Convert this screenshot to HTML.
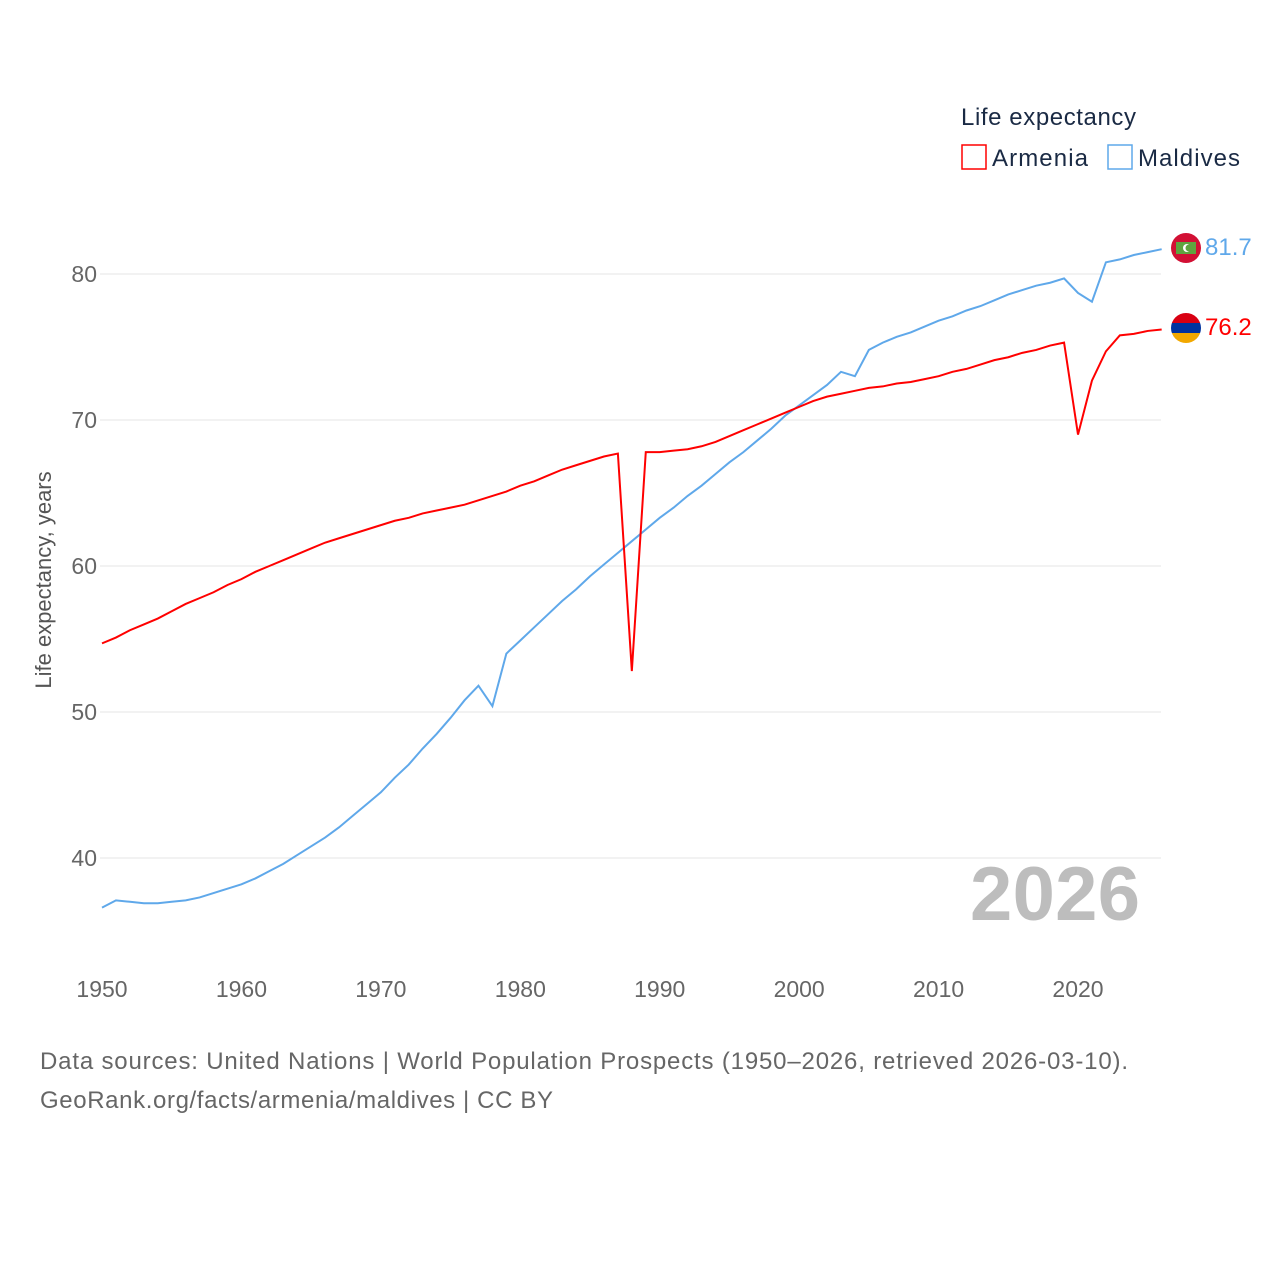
<!DOCTYPE html>
<html><head><meta charset="utf-8"><style>
body{margin:0;background:#fff;}
svg{display:block;font-family:"Liberation Sans",sans-serif;}
</style></head><body>
<svg id="chart" width="1280" height="1280">
<text x="961" y="125" font-size="24" fill="#1a2a44" textLength="175">Life expectancy</text>
<g>
<rect x="962" y="145" width="24" height="24" fill="none" stroke="#ff0000" stroke-width="1.5"/>
<text x="992" y="166" font-size="24" fill="#1a2a44" textLength="96">Armenia</text></g>
<g>
<rect x="1108" y="145" width="24" height="24" fill="none" stroke="#5fa8ea" stroke-width="1.5"/>
<text x="1138" y="166" font-size="24" fill="#1a2a44" textLength="102">Maldives</text></g>
<text transform="translate(51,580) rotate(-90)" text-anchor="middle" font-size="22" fill="#555">Life expectancy, years</text>
<g id="grid"></g><g id="xt"></g>
<text x="970" y="920" font-size="76" font-weight="bold" fill="#bdbdbd" textLength="170">2026</text>
<g id="lines"></g>
<g><clipPath id="c1"><circle cx="1186" cy="248" r="15"/></clipPath><g clip-path="url(#c1)"><rect x="1170" y="232" width="32" height="32" fill="#d21034"/><rect x="1176" y="242" width="20" height="12" fill="#5fa43f"/><circle cx="1187" cy="248" r="4" fill="#fff"/><circle cx="1189" cy="248" r="3.5" fill="#5fa43f"/></g></g>
<g><clipPath id="c2"><circle cx="1186" cy="328" r="15"/></clipPath><g clip-path="url(#c2)"><rect x="1170" y="312" width="32" height="11" fill="#d90012"/><rect x="1170" y="323" width="32" height="10" fill="#0033a0"/><rect x="1170" y="333" width="32" height="12" fill="#f2a800"/></g></g>
<text x="1205" y="255" font-size="24" fill="#5fa8ea">81.7</text>
<text x="1205" y="335" font-size="24" fill="#ff0000">76.2</text>
<text x="40" y="1069" font-size="24" fill="#666" textLength="1088">Data sources: United Nations | World Population Prospects (1950–2026, retrieved 2026-03-10).</text>
<text x="40" y="1108" font-size="24" fill="#666" textLength="513">GeoRank.org/facts/armenia/maldives | CC BY</text>
</svg>
<script>
const years=[];for(let y=1950;y<=2026;y++)years.push(y);
const armenia=[54.7,55.1,55.6,56.0,56.4,56.9,57.4,57.8,58.2,58.7,59.1,59.6,60.0,60.4,60.8,61.2,61.6,61.9,62.2,62.5,62.8,63.1,63.3,63.6,63.8,64.0,64.2,64.5,64.8,65.1,65.5,65.8,66.2,66.6,66.9,67.2,67.5,67.7,52.8,67.8,67.8,67.9,68.0,68.2,68.5,68.9,69.3,69.7,70.1,70.5,70.9,71.3,71.6,71.8,72.0,72.2,72.3,72.5,72.6,72.8,73.0,73.3,73.5,73.8,74.1,74.3,74.6,74.8,75.1,75.3,69.0,72.7,74.7,75.8,75.9,76.1,76.2];
const maldives=[36.6,37.1,37.0,36.9,36.9,37.0,37.1,37.3,37.6,37.9,38.2,38.6,39.1,39.6,40.2,40.8,41.4,42.1,42.9,43.7,44.5,45.5,46.4,47.5,48.5,49.6,50.8,51.8,50.4,54.0,54.9,55.8,56.7,57.6,58.4,59.3,60.1,60.9,61.7,62.5,63.3,64.0,64.8,65.5,66.3,67.1,67.8,68.6,69.4,70.3,71.0,71.7,72.4,73.3,73.0,74.8,75.3,75.7,76.0,76.4,76.8,77.1,77.5,77.8,78.2,78.6,78.9,79.2,79.4,79.7,78.7,78.1,80.8,81.0,81.3,81.5,81.7];
const yTicks=[40,50,60,70,80];
const xTicks=[1950,1960,1970,1980,1990,2000,2010,2020];
const X=y=>102+(y-1950)*13.943;
const Y=v=>274-(v-80)*14.6;
const NS='http://www.w3.org/2000/svg';
const g=document.getElementById('grid'),xt=document.getElementById('xt'),L=document.getElementById('lines');
yTicks.forEach(t=>{
 const l=document.createElementNS(NS,'line');
 l.setAttribute('x1',100);l.setAttribute('x2',1161);l.setAttribute('y1',Y(t));l.setAttribute('y2',Y(t));
 l.setAttribute('stroke','#e6e6e6');
 
 
 g.appendChild(l);
 const tx=document.createElementNS(NS,'text');
 tx.setAttribute('x',97);tx.setAttribute('y',Y(t)+8);tx.setAttribute('text-anchor','end');
 tx.setAttribute('font-size','23');tx.setAttribute('fill','#666');tx.textContent=t;
 
 
 g.appendChild(tx);
});
xTicks.forEach(t=>{
 const tx=document.createElementNS(NS,'text');
 tx.setAttribute('x',X(t));tx.setAttribute('y',997);tx.setAttribute('text-anchor','middle');
 tx.setAttribute('font-size','23');tx.setAttribute('fill','#666');tx.textContent=t;
 
 
 xt.appendChild(tx);
});
function line(data,color,name){
 const p=document.createElementNS(NS,'polyline');
 p.setAttribute('points',data.map((v,i)=>X(years[i])+','+Y(v)).join(' '));
 p.setAttribute('fill','none');p.setAttribute('stroke',color);p.setAttribute('stroke-width','2');
 
 
 L.appendChild(p);
}
line(maldives,'#5fa8ea','maldives-line');
line(armenia,'#ff0000','armenia-line');
</script>
</body></html>
